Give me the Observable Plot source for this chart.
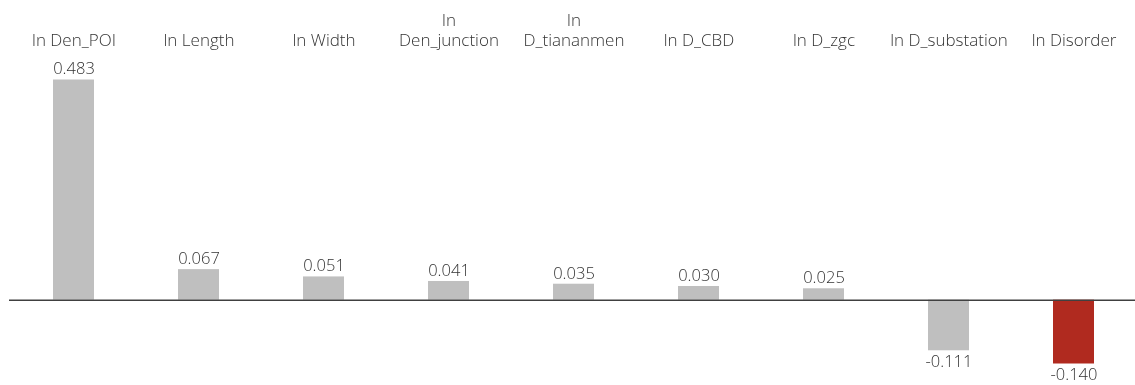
<!DOCTYPE html>
<html>
<head>
<meta charset="utf-8">
<script src="https://cdn.jsdelivr.net/npm/d3@7"></script>
<script src="https://cdn.jsdelivr.net/npm/@observablehq/plot@0.6"></script>
<style>
  html, body { margin: 0; padding: 0; background: #fff; }
  #chart svg { display: block; will-change: transform; -webkit-font-smoothing: antialiased; }
</style>
</head>
<body>
<div id="chart"></div>
<script>
const categories = ["ln Den_POI", "ln Length", "ln Width", "ln Den_junction", "ln D_tiananmen", "ln D_CBD", "ln D_zgc", "ln D_substation", "ln Disorder"];
const tickLabels = ["ln Den_POI", "ln Length", "ln Width", "ln\nDen_junction", "ln\nD_tiananmen", "ln D_CBD", "ln D_zgc", "ln D_substation", "ln Disorder"];
const values = [0.483, 0.067, 0.051, 0.041, 0.035, 0.030, 0.025, -0.111, -0.140];
const highlighted = "ln Disorder";

const data = categories.map((name, i) => ({name, value: values[i]}));
const gray = "#bfbfbf";
const red = "#b02a1f";
const textColor = "#333333";
const font = "'Open Sans', 'Noto Sans', sans-serif";

const chart = Plot.plot({
  width: 1135,
  height: 385,
  marginLeft: 9,
  marginRight: 0,
  marginTop: 48,
  marginBottom: 0,
  style: {fontFamily: font, fontSize: "16px", fontWeight: 300, color: textColor, background: "#fff"},
  x: {domain: categories, range: [10, 1137], paddingInner: 0.67, paddingOuter: 0.335, label: null},
  y: {domain: [-0.140, 0.483], range: [363.5, 79.5], axis: null},
  marks: [
    Plot.barY(data, {
      x: "name",
      y: "value",
      fill: d => d.name === highlighted ? red : gray
    }),
    Plot.ruleY([0], {stroke: "#404040", strokeWidth: 1.5}),
    Plot.text(data.filter(d => d.value >= 0), {
      x: "name", y: "value", text: d => d.value.toFixed(3),
      dy: -11, fill: textColor, fontSize: 16.5, fontWeight: 300
    }),
    Plot.text(data.filter(d => d.value < 0), {
      x: "name", y: "value", text: d => d.value.toFixed(3),
      dy: 11, fill: textColor, fontSize: 16.5, fontWeight: 300
    }),
    Plot.axisX({
      anchor: "top",
      tickSize: 0,
      tickPadding: 3,
      label: null,
      fontSize: 17,
      fontWeight: 300,
      lineHeight: 1.15,
      tickFormat: d => tickLabels[categories.indexOf(d)]
    })
  ]
});
document.getElementById("chart").appendChild(chart);
</script>
</body>
</html>
